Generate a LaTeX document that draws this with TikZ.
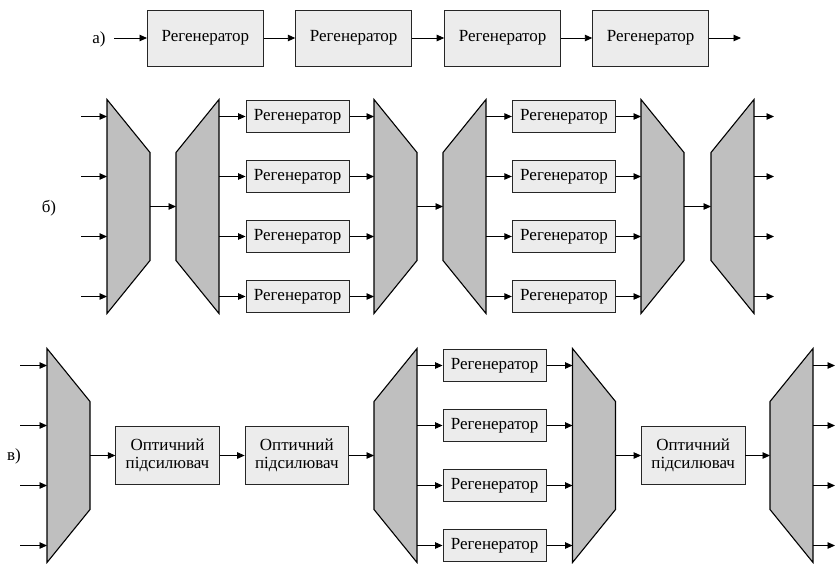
\documentclass[tikz,border=0pt]{standalone}
\usepackage{fontspec}
\setmainfont{Liberation Serif}
\usetikzlibrary{arrows.meta}

\definecolor{boxfill}{gray}{0.925}
\definecolor{trapfill}{gray}{0.75}
\definecolor{boxline}{gray}{0.15}

\tikzset{
  arr/.style={draw=black, line width=0.9pt, -{Triangle[length=7.5pt,width=6.5pt]}},
  trap/.style={draw=black, fill=trapfill, line width=1.1pt, line join=miter},
  block/.style={draw=boxline, fill=boxfill, line width=0.8pt, inner sep=0pt,
                align=center, font=\fontsize{17}{17.5}\selectfont},
  regen/.style={block, minimum width=103.5pt, minimum height=32pt},
  bigregen/.style={block, minimum width=116pt, minimum height=56pt},
  amp/.style={block, minimum width=103.5pt, minimum height=57.5pt},
  lbl/.style={font=\fontsize{17}{18}\selectfont, inner sep=0pt},
  % multiplexer: tall side on the left, four inputs, one output
  mux/.pic={
    \draw[trap] (0,-107) -- (43,-54) -- (43,54) -- (0,107) -- cycle;
    \coordinate (-i1) at (0,-90);
    \coordinate (-i2) at (0,-30);
    \coordinate (-i3) at (0,30);
    \coordinate (-i4) at (0,90);
    \coordinate (-o) at (43,0);
  },
  % demultiplexer: one input, tall side on the right, four outputs
  demux/.pic={
    \draw[trap] (0,-54) -- (43,-107) -- (43,107) -- (0,54) -- cycle;
    \coordinate (-i) at (0,0);
    \coordinate (-o1) at (43,-90);
    \coordinate (-o2) at (43,-30);
    \coordinate (-o3) at (43,30);
    \coordinate (-o4) at (43,90);
  },
}

\begin{document}
\begin{tikzpicture}[x=1pt, y=-1pt]
\useasboundingbox (0,0) rectangle (835,563);

% ---------- a) chain of regenerators ----------
\node[lbl] (la) at (99,39) {а)};
\coordinate (ain) at (114,38);
\node[bigregen] (a1) at (205.4,38) {Регенератор};
\node[bigregen] (a2) at (353.7,38) {Регенератор};
\node[bigregen] (a3) at (502.6,38) {Регенератор};
\node[bigregen] (a4) at (650.7,38) {Регенератор};
\coordinate (aout) at (741,38);
\draw[arr] (ain) -- (a1);
\draw[arr] (a1) -- (a2);
\draw[arr] (a2) -- (a3);
\draw[arr] (a3) -- (a4);
\draw[arr] (a4) -- (aout);

% ---------- б) WDM link with regeneration of every channel ----------
\node[lbl] (lb) at (49,208) {б)};
\pic (m1) at (107,206.5) {mux};
\pic (d1) at (176,206.5) {demux};
\pic (m2) at (374,206.5) {mux};
\pic (d2) at (443,206.5) {demux};
\pic (m3) at (641,206.5) {mux};
\pic (d3) at (711,206.5) {demux};

\foreach \k/\dy in {1/-90,2/-30,3/30,4/90}{
  \coordinate (bin\k) at (81,206.5+\dy);
  \coordinate (bout\k) at (774,206.5+\dy);
  \node[regen] (r\k) at (297.7,206.5+\dy) {Регенератор};
  \node[regen] (s\k) at (564,206.5+\dy) {Регенератор};
  \draw[arr] (bin\k) -- (m1-i\k);
  \draw[arr] (d1-o\k) -- (r\k);
  \draw[arr] (r\k) -- (m2-i\k);
  \draw[arr] (d2-o\k) -- (s\k);
  \draw[arr] (s\k) -- (m3-i\k);
  \draw[arr] (d3-o\k) -- (bout\k);
}
\draw[arr] (m1-o) -- (d1-i);
\draw[arr] (m2-o) -- (d2-i);
\draw[arr] (m3-o) -- (d3-i);

% ---------- в) WDM link with optical amplifiers ----------
\node[lbl] (lc) at (14,456) {в)};
\pic (ma) at (47,455.5) {mux};
\node[amp] (oa1) at (167.5,455.5) {Оптичний\\підсилювач};
\node[amp] (oa2) at (296.8,455.5) {Оптичний\\підсилювач};
\pic (db) at (374,455.5) {demux};
\pic (mc) at (572.5,455.5) {mux};
\node[amp] (oa3) at (693.2,455.5) {Оптичний\\підсилювач};
\pic (dd) at (770,455.5) {demux};

\foreach \k/\dy in {1/-90,2/-30,3/30,4/90}{
  \coordinate (cin\k) at (20,455.5+\dy);
  \coordinate (cout\k) at (835,455.5+\dy);
  \node[regen] (t\k) at (494.7,455.5+\dy) {Регенератор};
  \draw[arr] (cin\k) -- (ma-i\k);
  \draw[arr] (db-o\k) -- (t\k);
  \draw[arr] (t\k) -- (mc-i\k);
  \draw[arr] (dd-o\k) -- (cout\k);
}
\draw[arr] (ma-o) -- (oa1);
\draw[arr] (oa1) -- (oa2);
\draw[arr] (oa2) -- (db-i);
\draw[arr] (mc-o) -- (oa3);
\draw[arr] (oa3) -- (dd-i);
\end{tikzpicture}
\end{document}
